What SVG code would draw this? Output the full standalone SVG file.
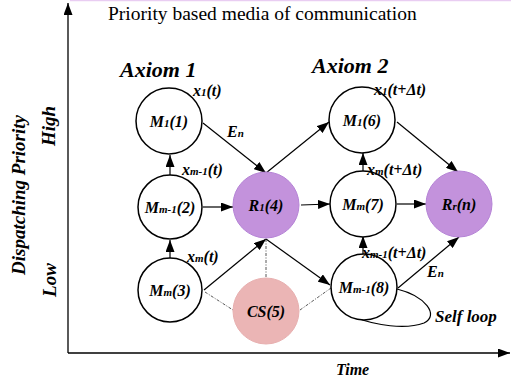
<svg xmlns="http://www.w3.org/2000/svg" width="511" height="385" viewBox="0 0 511 385">
<style>
.lbl{font-family:"Liberation Serif","Times New Roman",serif;font-weight:bold;font-style:italic;fill:#000}
.nt{font-size:16px;text-anchor:middle}
.el{font-size:16px}
.sb{font-size:11px}
.node{fill:#fff;stroke:#000;stroke-width:1.5}
.pur{fill:#c392dc;stroke:#b583d6;stroke-width:1}
.pink{fill:#ebb5b5;stroke:#e8b0b0;stroke-width:1}
.edge{stroke:#000;stroke-width:1.2;fill:none}
.dot{stroke:#444;stroke-width:0.9;fill:none;stroke-dasharray:3 1.5 1 1.5}
</style>
<defs>
<marker id="ah" viewBox="0 0 12 9" refX="12" refY="4.5" markerWidth="12" markerHeight="9" markerUnits="userSpaceOnUse" orient="auto"><path d="M0,0 L12,4.5 L0,9 z" fill="#000"/></marker>
</defs>
<rect width="511" height="385" fill="#fff"/>
<line x1="70" y1="0.5" x2="511" y2="0.5" stroke="#e9cdf2" stroke-width="1.5"/>
<g id="axes">
<line x1="68" y1="353" x2="68" y2="3" stroke="#000" stroke-width="1.3" marker-end="url(#ah)"/>
<line x1="68" y1="353" x2="510" y2="353" stroke="#000" stroke-width="1.3" marker-end="url(#ah)"/>
</g>
<text x="108" y="20" font-family="Liberation Serif, Times New Roman, serif" font-size="19.5">Priority based media of communication</text>
<text class="lbl" x="120" y="77" font-size="22">Axiom 1</text>
<text class="lbl" x="312" y="73" font-size="22">Axiom 2</text>
<text class="lbl" font-size="19" text-anchor="middle" transform="translate(25,195) rotate(-90)">Dispatching Priority</text>
<text class="lbl" font-size="19" text-anchor="middle" transform="translate(55,126) rotate(-90)">High</text>
<text class="lbl" font-size="19" text-anchor="middle" transform="translate(56,280) rotate(-90)">Low</text>
<text class="lbl" x="336" y="375" font-size="16">Time</text>
<g id="connectors">
<line class="edge" x1="203" y1="123" x2="266" y2="173" marker-end="url(#ah)"/>
<line class="edge" x1="266" y1="173" x2="329" y2="122" marker-end="url(#ah)"/>
<line class="edge" x1="203" y1="207" x2="233" y2="207" marker-end="url(#ah)"/>
<line class="edge" x1="170" y1="258" x2="170" y2="240" marker-end="url(#ah)"/>
<line class="edge" x1="170" y1="175" x2="170" y2="155" marker-end="url(#ah)"/>
<line class="edge" x1="204" y1="290" x2="266" y2="239" marker-end="url(#ah)"/>
<path class="dot" d="M205,292 L233,310"/>
<path class="dot" d="M266,239 L266,278"/>
<line class="edge" x1="266" y1="239" x2="330" y2="285" marker-end="url(#ah)"/>
<path class="dot" d="M300,310 L331,288"/>
<line class="edge" x1="301" y1="205" x2="330" y2="204" marker-end="url(#ah)"/>
<line class="edge" x1="397" y1="204" x2="426" y2="204" marker-end="url(#ah)"/>
<line class="edge" x1="363" y1="254" x2="363" y2="236" marker-end="url(#ah)"/>
<line class="edge" x1="363" y1="171" x2="363" y2="153" marker-end="url(#ah)"/>
<line class="edge" x1="397" y1="122" x2="458" y2="172" marker-end="url(#ah)"/>
<line class="edge" x1="398" y1="288" x2="459" y2="237" marker-end="url(#ah)"/>
<path class="edge" d="M397,289 C425,296 440,315 424,323 C405,330 375,325 357,318"/>
</g>
<g id="n1"><circle class="node" cx="169" cy="121" r="33"/><text class="lbl nt" x="169" y="127">M<tspan class="sb">1</tspan>(1)</text></g>
<g id="n2"><circle class="node" cx="170" cy="207" r="32"/><text class="lbl nt" x="170" y="213">M<tspan class="sb">m-1</tspan>(2)</text></g>
<g id="n3"><circle class="node" cx="170" cy="290" r="32"/><text class="lbl nt" x="170" y="296">M<tspan class="sb">m</tspan>(3)</text></g>
<g id="n4"><circle class="pur" cx="266" cy="205" r="33"/><text class="lbl nt" x="266" y="211">R<tspan class="sb">1</tspan>(4)</text></g>
<g id="n5"><circle class="pink" cx="266" cy="311" r="33"/><text class="lbl nt" x="266" y="317">CS(5)</text></g>
<g id="n6"><circle class="node" cx="362" cy="120" r="33"/><text class="lbl nt" x="362" y="126">M<tspan class="sb">1</tspan>(6)</text></g>
<g id="n7"><circle class="node" cx="363" cy="204" r="33"/><text class="lbl nt" x="363" y="210">M<tspan class="sb">m</tspan>(7)</text></g>
<g id="n8"><circle class="node" cx="364" cy="287" r="33"/><text class="lbl nt" x="364" y="293">M<tspan class="sb">m-1</tspan>(8)</text></g>
<g id="n9"><circle class="pur" cx="459" cy="204" r="33"/><text class="lbl nt" x="459" y="210">R<tspan class="sb">r</tspan>(n)</text></g>
<g id="edge-labels">
<text class="lbl el" x="193" y="96">x<tspan class="sb">1</tspan>(t)</text>
<text class="lbl el" x="227" y="137">E<tspan class="sb">n</tspan></text>
<text class="lbl el" x="182" y="175">x<tspan class="sb">m-1</tspan>(t)</text>
<text class="lbl el" x="187" y="262">x<tspan class="sb">m</tspan>(t)</text>
<text class="lbl el" x="374" y="95">x<tspan class="sb">1</tspan>(t+Δt)</text>
<text class="lbl el" x="367" y="175">x<tspan class="sb">m</tspan>(t+Δt)</text>
<text class="lbl el" x="362" y="258">x<tspan class="sb">m-1</tspan>(t+Δt)</text>
<text class="lbl el" x="427" y="277">E<tspan class="sb">n</tspan></text>
<text class="lbl" x="435" y="322" font-size="17">Self loop</text>
</g>
</svg>
